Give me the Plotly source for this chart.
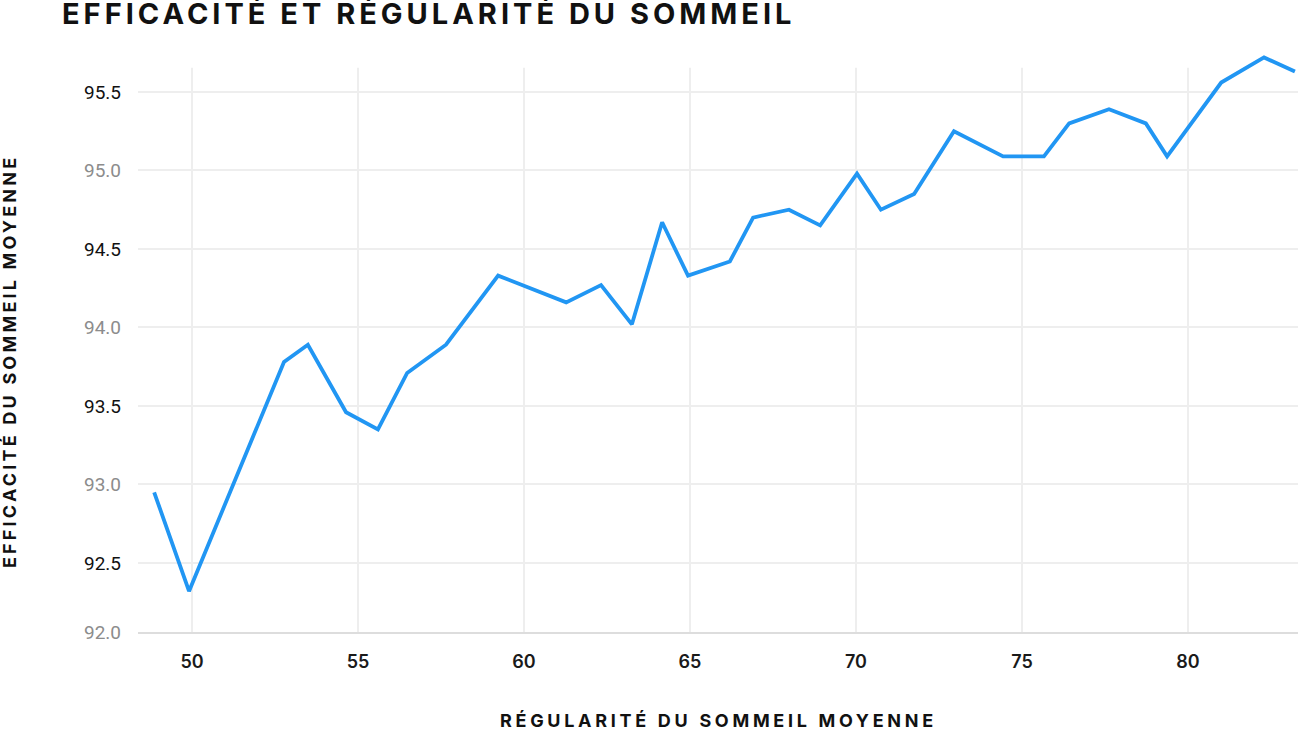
import plotly.graph_objects as go

# data
regularite = [48.86, 49.91, 52.77, 53.49, 54.64, 55.60, 56.48, 57.65, 59.22, 61.27,
              62.32, 63.25, 64.16, 64.94, 66.20, 66.90, 67.98, 68.92, 70.03, 70.75,
              71.75, 72.95, 74.43, 75.66, 76.42, 77.62, 78.73, 79.37, 81.00, 82.29, 83.22]
efficacite = [92.95, 92.32, 93.78, 93.89, 93.46, 93.35, 93.71, 93.89, 94.33, 94.16,
              94.27, 94.02, 94.67, 94.33, 94.42, 94.70, 94.75, 94.65, 94.98, 94.75,
              94.85, 95.25, 95.09, 95.09, 95.30, 95.39, 95.30, 95.09, 95.56, 95.72, 95.63]

x_ticks = [50, 55, 60, 65, 70, 75, 80]
# the bottom label sits on the axis floor in the reference
y_floor = 92.06
y_ticks = [y_floor, 92.5, 93.0, 93.5, 94.0, 94.5, 95.0, 95.5]
y_labels = ["92.0", "92.5", "93.0", "93.5", "94.0", "94.5", "95.0", "95.5"]

BLUE = "#2196F3"
GRID = "#eeeeee"


def spaced(text, px):
    return f'<span style="letter-spacing:{px}px">{text}</span>'


y_text = []
for i, lab in enumerate(y_labels):
    if i % 2 == 0:
        y_text.append(f'<span style="color:#8c8c8c">{lab}</span>')
    else:
        y_text.append(lab)

fig = go.Figure()

fig.add_trace(go.Scatter(
    x=regularite,
    y=efficacite,
    mode="lines",
    line=dict(color=BLUE, width=3.8),
    hoverinfo="x+y",
    showlegend=False,
))

# vertical grid lines stop below the top of the plot area
for xv in x_ticks:
    fig.add_shape(
        type="line", xref="x", yref="y",
        x0=xv, x1=xv, y0=y_floor, y1=95.655,
        line=dict(color=GRID, width=2),
        layer="below",
    )

fig.update_layout(
    width=1298,
    height=732,
    margin=dict(l=138, r=0, t=40, b=100),
    plot_bgcolor="#ffffff",
    paper_bgcolor="#ffffff",
    title=dict(
        text=spaced("<b>EFFICACITÉ ET RÉGULARITÉ DU SOMMEIL</b>", 4),
        font=dict(family="Inter", size=29, color="#111111", weight=800),
        xref="container", yref="container",
        x=62 / 1298, xanchor="left",
        y=1 - 14 / 732, yanchor="middle",
    ),
    xaxis=dict(
        range=[48.373, 83.313],
        tickvals=x_ticks,
        showgrid=False,
        zeroline=False,
        showline=True,
        linecolor="#dddddd",
        linewidth=2,
        ticks="",
        ticklabelstandoff=12,
        tickfont=dict(family="Inter", size=18, color="#1a1a1a", weight=600),
    ),
    yaxis=dict(
        range=[y_floor, 95.831],
        tickvals=y_ticks,
        ticktext=y_text,
        showgrid=True,
        gridcolor=GRID,
        gridwidth=2,
        zeroline=False,
        showline=False,
        ticks="",
        ticklabelstandoff=16,
        tickfont=dict(family="Roboto", size=19, color="#111111"),
    ),
    annotations=[
        dict(
            text=spaced("<b>RÉGULARITÉ DU SOMMEIL MOYENNE</b>", 3.7),
            xref="paper", yref="paper",
            x=0.5, y=-0.150, xanchor="center", yanchor="middle",
            showarrow=False,
            font=dict(family="Inter", size=18, color="#111111", weight=800),
        ),
        dict(
            text=spaced("<b>EFFICACITÉ DU SOMMEIL MOYENNE</b>", 3.2),
            xref="paper", yref="paper",
            x=-0.1112, y=0.456, xanchor="center", yanchor="middle",
            textangle=-90,
            showarrow=False,
            font=dict(family="Inter", size=18, color="#111111", weight=800),
        ),
    ],
)

fig.write_html(
    "out.html",
    config={"displayModeBar": False},
    post_script="document.body.style.margin='0px';",
)
